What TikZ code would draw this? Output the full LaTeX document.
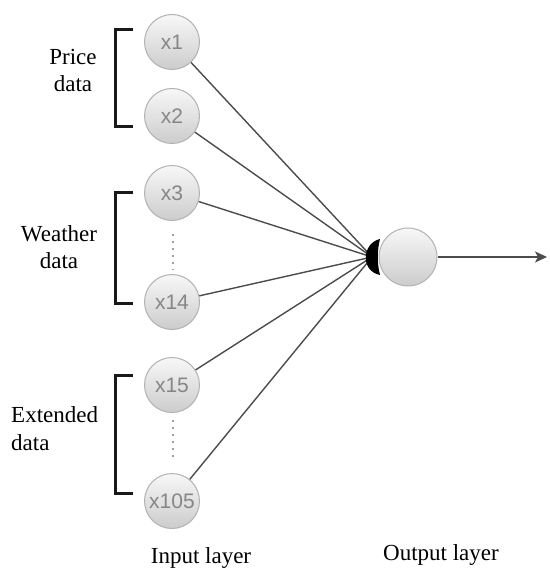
\documentclass[tikz,border=0pt]{standalone}
\usepackage{fontspec}
\setmainfont{Liberation Serif}
\newfontfamily\circfont{Liberation Sans}
\usetikzlibrary{arrows.meta}
\begin{document}
\begin{tikzpicture}[x=1pt,y=-1pt,
  inp/.style={circle,minimum size=55pt,inner sep=0pt,draw=gray!60,line width=1pt,
    top color=gray!6,bottom color=gray!40,font=\circfont\fontsize{21}{21}\selectfont,text=gray!95},
  outp/.style={circle,minimum size=58pt,inner sep=0pt,draw=gray!60,line width=1pt,
    top color=gray!6,bottom color=gray!40},
  conn/.style={draw=black!70,line width=1.4pt},
  brk/.style={draw=black!90,line width=3pt},
  dots/.style={draw=gray!75,line width=2pt,dash pattern=on 2pt off 5pt},
  lbl/.style={font=\fontsize{23}{27}\selectfont,anchor=base,inner sep=0pt}]
\useasboundingbox (0,0) rectangle (549,577);
\fill[white] (0,0) rectangle (549,577);
% brackets
\draw[brk] (133,30) -- (115,30) -- (115,127) -- (133,127);
\draw[brk] (133,193) -- (115,193) -- (115,303) -- (133,303);
\draw[brk] (133,375) -- (115,375) -- (115,493) -- (133,493);
% dotted
\coordinate (d1a) at (173,234); \coordinate (d1b) at (173,270);
\coordinate (d2a) at (173,420); \coordinate (d2b) at (173,458);
\draw[dots] (d1a) -- (d1b);
\draw[dots] (d2a) -- (d2b);
% convergence point
\coordinate (conv) at (372,257);
\path (172,42) coordinate (p1) (172,116) coordinate (p2) (172,193) coordinate (p3)
      (172,302) coordinate (p14) (172,385) coordinate (p15) (172,501) coordinate (p105);
\foreach \n in {1,2,3,14,15,105}{
  \node[inp] (x\n) at (p\n) {x\n};
  \draw[conn] (x\n) -- (conv);
}
% output
\node[outp] (out) at (408,257) {};
\fill[black] (380,239) .. controls (362,243) and (360,271) .. (380,275)
  .. controls (377,263) and (377,251) .. (380,239) -- cycle;
\coordinate (end) at (547,257);
\draw[conn,-{Stealth[length=12pt,width=11pt,inset=3pt]}] (out) -- (end);
% labels
\node[lbl] (lp1) at (73,65) {Price};
\node[lbl] (lp2) at (73,92) {data};
\node[lbl] (lw1) at (59,241) {Weather};
\node[lbl] (lw2) at (59,268) {data};
\node[lbl,anchor=base west] (le1) at (11,422) {Extended};
\node[lbl,anchor=base west] (le2) at (11,450) {data};
\node[lbl] (li) at (201,563) {Input layer};
\node[lbl] (lo) at (441,560) {Output layer};
\end{tikzpicture}
\end{document}
